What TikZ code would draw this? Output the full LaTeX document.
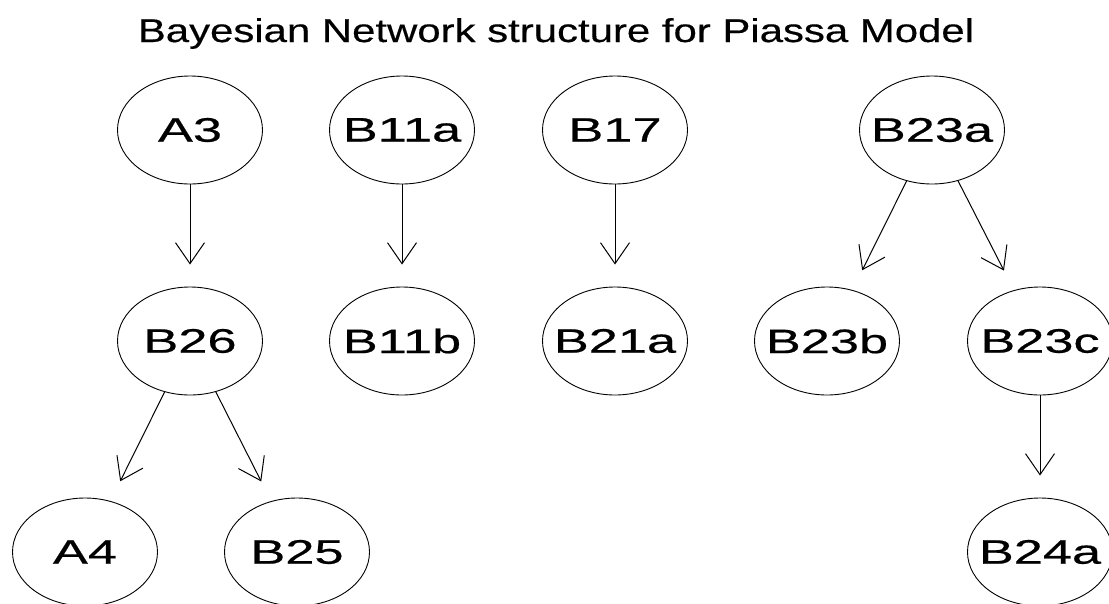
\documentclass[tikz,border=0pt]{standalone}
\usepackage{fontspec}
\setmainfont{Liberation Sans}
\newfontfamily\nodefont[FakeStretch=1.54,FakeBold=0.5]{Liberation Sans}
\newfontfamily\titlefont[FakeStretch=1.27,FakeBold=0.4]{Liberation Sans}
\usetikzlibrary{shapes.geometric,arrows.meta}
\tikzset{
  bnnode/.style={ellipse, draw=black, line width=0.9pt, minimum width=145pt, minimum height=108pt, inner sep=0pt},
  bnedge/.style={draw=black, line width=1pt, shorten >=22pt, -{Straight Barb[length=21pt,width=29pt,line width=1pt]}}
}
\newcommand{\nlab}[1]{\makebox[0pt]{\nodefont\fontsize{34}{40}\selectfont #1}}
\begin{document}
\begin{tikzpicture}[x=1pt,y=-1pt]
\useasboundingbox (0,0) rectangle (1109,603);
\clip (0,0) rectangle (1109,603);
\fill[white] (0,0) rectangle (1109,603);
\node[anchor=base, inner sep=0pt] (title) at (556,42) {\titlefont\fontsize{33}{40}\selectfont Bayesian Network structure for Piassa Model};
% row 1
\node[bnnode] (A3) at (190,130) {\nlab{A3}};
\node[bnnode] (B11a) at (402,130) {\nlab{B11a}};
\node[bnnode] (B17) at (615,130) {\nlab{B17}};
\node[bnnode] (B23a) at (932,130) {\nlab{B23a}};
% row 2
\node[bnnode] (B26) at (190,341) {\nlab{B26}};
\node[bnnode] (B11b) at (402,341) {\nlab{B11b}};
\node[bnnode] (B21a) at (615,341) {\nlab{B21a}};
\node[bnnode] (B23b) at (827,341) {\nlab{B23b}};
\node[bnnode] (B23c) at (1040,341) {\nlab{B23c}};
% row 3
\node[bnnode] (A4) at (85,552) {\nlab{A4}};
\node[bnnode] (B25) at (297,552) {\nlab{B25}};
\node[bnnode] (B24a) at (1040,552) {\nlab{B24a}};
% edges
\draw[bnedge] (A3) -- (B26);
\draw[bnedge] (B11a) -- (B11b);
\draw[bnedge] (B17) -- (B21a);
\draw[bnedge] (B23a) -- (B23b);
\draw[bnedge] (B23a) -- (B23c);
\draw[bnedge] (B26) -- (A4);
\draw[bnedge] (B26) -- (B25);
\draw[bnedge] (B23c) -- (B24a);
\end{tikzpicture}
\end{document}
